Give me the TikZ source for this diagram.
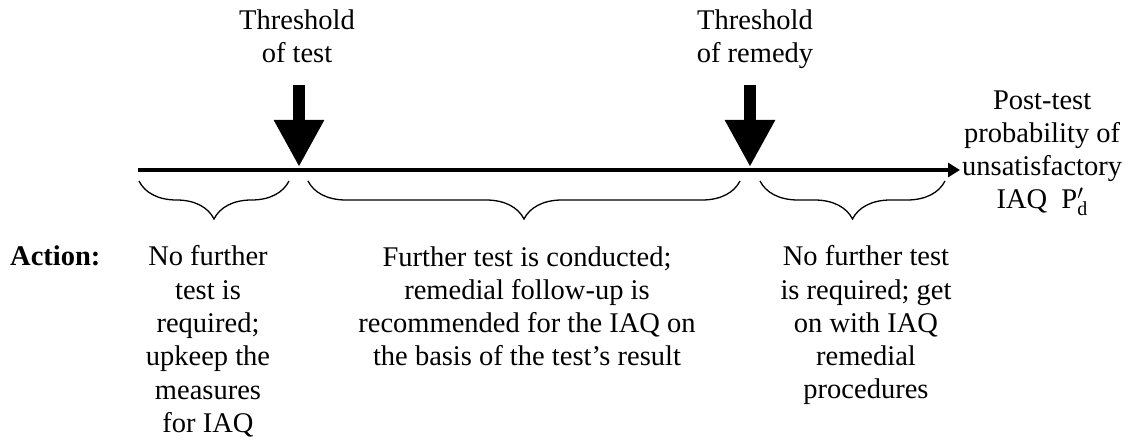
\documentclass[tikz,border=0pt]{standalone}
\usepackage{fontspec}
\setmainfont{Liberation Serif}
\usepackage{tikz}
\usetikzlibrary{positioning, arrows.meta, decorations.pathreplacing}
\tikzset{
    lbl/.style={font=\fontsize{28.5}{33.3}\selectfont, align=center, inner sep=0pt},
    actlbl/.style={lbl, anchor=base},
    threshold/.style={line width=12pt, -{Triangle[width=47pt,length=47pt]}},
    axis/.style={line width=4pt, -{Triangle[width=14pt,length=12pt]}},
    rangebrace/.style={decorate, decoration={brace, mirror, amplitude=38pt, aspect=0.5}, line width=1.3pt}
}

\begin{document}
\begin{tikzpicture}[x=1pt, y=1pt]
    \useasboundingbox (0,0) rectangle (1141,447);
    % axis
    \coordinate (ax0) at (138,277);
    \coordinate (ax1) at (960,277);
    \node[lbl, anchor=base west] (post) at (962,238) {Post-test\\probability of\\unsatisfactory\\IAQ\ \ $\mathrm{P}'_{\mathrm{d}}$};
    \draw[axis] (ax0) -- (ax1);
    % thresholds
    \coordinate (tt) at (299,280);
    \coordinate (tr) at (750,280);
    \node[lbl, anchor=base] (ttest) at (297,384) {Threshold\\of test};
    \node[lbl, anchor=base] (trem) at (755,384) {Threshold\\of remedy};
    \draw[threshold] (tt |- 0,362) -- (tt);
    \draw[threshold] (tr |- 0,362) -- (tr);
    % braces
    \draw[rangebrace] (139,266) -- (289,266);
    \draw[rangebrace] (308,266) -- (740,266);
    \draw[rangebrace] (760,266) -- (945,266);
    % actions (base = last line)
    \node[lbl, anchor=base west, font=\fontsize{28.5}{33.3}\selectfont\bfseries] (act) at (10,181) {Action:};
    \node[actlbl] (a1) at (208,14.5) {No further\\test is\\required;\\upkeep the\\measures\\for IAQ};
    \node[actlbl] (a2) at (527,81) {Further test is conducted;\\remedial follow-up is\\recommended for the IAQ on\\the basis of the test’s result};
    \node[actlbl] (a3) at (866,48) {No further test\\is required; get\\on with IAQ\\remedial\\procedures};
\end{tikzpicture}
\end{document}
